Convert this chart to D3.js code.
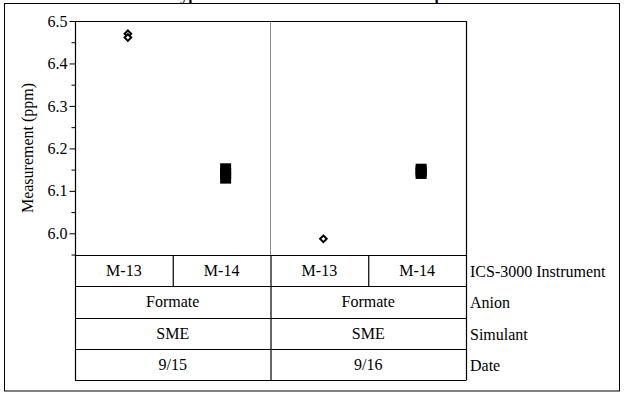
<!DOCTYPE html>
<html>
<head>
<meta charset="utf-8">
<script src="https://cdn.jsdelivr.net/npm/d3@7"></script>
<style>
  html, body { margin: 0; padding: 0; background: #fff; }
  svg { display: block; }
  text { font-family: "Liberation Serif", "Times New Roman", serif; fill: #000; }
</style>
</head>
<body>
<svg id="chart" width="624" height="396"></svg>
<script>
// ---- data ----
const chartTitle = "Typical Formate Results for SME Samples";
const yLabel = "Measurement (ppm)";
const dateLabels = ["9/15", "9/16"];
const instrumentLabels = ["M-13", "M-14"];
const anionLabels = ["Formate", "Formate"];
const simulantLabels = ["SME", "SME"];
const rowTitles = ["ICS-3000 Instrument", "Anion", "Simulant", "Date"];
const yMajorTicks = [6.0, 6.1, 6.2, 6.3, 6.4, 6.5];
const yMinorTicks = [5.95, 6.05, 6.15, 6.25, 6.35, 6.45];
// replicate measurements per date / instrument
const sep15M13 = [6.470, 6.461];
const sep15M14 = [6.152, 6.141, 6.130];
const sep16M13 = [5.987];
const sep16M14 = [6.151, 6.146, 6.141];

const measurements = [
  { date: "9/15", inst: "M-13", values: sep15M13 },
  { date: "9/15", inst: "M-14", values: sep15M14 },
  { date: "9/16", inst: "M-13", values: sep16M13 },
  { date: "9/16", inst: "M-14", values: sep16M14 }
];

// ---- layout ----
const svg = d3.select("#chart");
const plotLeft = 75, plotRight = 466, plotTop = 21, plotBottom = 255;
const rowH = 31.25;
const tableBottom = plotBottom + rowH * 4;
const markerShift = 4;

const cellKeys = [];
dateLabels.forEach(d => instrumentLabels.forEach(i => cellKeys.push(d + "|" + i)));

const xCell = d3.scaleBand().domain(cellKeys).range([plotLeft, plotRight]);
const xDate = d3.scaleBand().domain(dateLabels).range([plotLeft, plotRight]);
const y = d3.scaleLinear().domain([5.949, 6.5]).range([plotBottom, plotTop]);

// outer frame
svg.append("rect")
  .attr("x", 4.5).attr("y", 3.5)
  .attr("width", 615).attr("height", 387.5)
  .attr("fill", "none").attr("stroke", "#000").attr("stroke-width", 1);

// title (sits above the frame)
svg.append("text")
  .attr("x", 316).attr("y", 0)
  .attr("text-anchor", "middle")
  .attr("font-size", 16).attr("font-weight", "bold")
  .text(chartTitle);

// date divider inside plot region
svg.append("line")
  .attr("x1", xDate("9/16")).attr("x2", xDate("9/16"))
  .attr("y1", plotTop).attr("y2", plotBottom)
  .attr("stroke", "#8c8c8c").attr("stroke-width", 1);

// plot frame (top and right)
svg.append("path")
  .attr("d", `M${plotLeft},${plotTop + 0.5}H${plotRight + 0.5}V${tableBottom}`)
  .attr("fill", "none").attr("stroke", "#000").attr("stroke-width", 1.2);

// y axis
const axisMajor = d3.axisLeft(y).tickValues(yMajorTicks).tickFormat(d3.format(".1f")).tickSize(6).tickPadding(2);
const axisMinor = d3.axisLeft(y).tickValues(yMinorTicks).tickFormat("").tickSize(4);

const gMinor = svg.append("g").attr("transform", `translate(${plotLeft + 0.5},0)`).call(axisMinor);
gMinor.select(".domain").remove();
const gMajor = svg.append("g").attr("transform", `translate(${plotLeft + 0.5},0)`).call(axisMajor);
gMajor.select(".domain").remove();
svg.selectAll(".tick line").attr("stroke", "#000");
gMajor.selectAll(".tick text")
  .attr("font-family", "Liberation Serif, Times New Roman, serif")
  .attr("font-size", 16).attr("fill", "#000");

// axis line continues down as table left border
svg.append("line")
  .attr("x1", plotLeft + 0.5).attr("x2", plotLeft + 0.5)
  .attr("y1", plotTop).attr("y2", tableBottom)
  .attr("stroke", "#000").attr("stroke-width", 1.2);

// y label
svg.append("text")
  .attr("transform", `translate(27,${(plotTop + plotBottom) / 2 + 10}) rotate(-90)`)
  .attr("text-anchor", "middle")
  .attr("dominant-baseline", "central")
  .attr("font-size", 16)
  .text(yLabel);

// ---- table below plot ----
const rowY = i => plotBottom + rowH * i;
// horizontal rules
for (let i = 0; i <= 4; i++) {
  svg.append("line")
    .attr("x1", plotLeft).attr("x2", plotRight + 0.5)
    .attr("y1", Math.round(rowY(i)) + 0.5).attr("y2", Math.round(rowY(i)) + 0.5)
    .attr("stroke", "#000").attr("stroke-width", 1.2);
}
// date divider through the table
svg.append("line")
  .attr("x1", xDate("9/16") + 0.5).attr("x2", xDate("9/16") + 0.5)
  .attr("y1", plotBottom).attr("y2", tableBottom)
  .attr("stroke", "#000").attr("stroke-width", 1.2);
// instrument dividers in first row
dateLabels.forEach(d => {
  const xk = xCell(d + "|M-14");
  svg.append("line")
    .attr("x1", xk + 0.5).attr("x2", xk + 0.5)
    .attr("y1", rowY(0)).attr("y2", rowY(1))
    .attr("stroke", "#000").attr("stroke-width", 1.2);
});

const cellFont = 16;
// instrument row
cellKeys.forEach(k => {
  svg.append("text")
    .attr("x", xCell(k) + xCell.bandwidth() / 2)
    .attr("y", rowY(0) + rowH / 2)
    .attr("text-anchor", "middle").attr("dominant-baseline", "central")
    .attr("font-size", cellFont)
    .text(k.split("|")[1]);
});
// anion, simulant, date rows
[anionLabels, simulantLabels, dateLabels].forEach((labels, r) => {
  dateLabels.forEach((d, i) => {
    svg.append("text")
      .attr("x", xDate(d) + xDate.bandwidth() / 2)
      .attr("y", rowY(r + 1) + rowH / 2)
      .attr("text-anchor", "middle").attr("dominant-baseline", "central")
      .attr("font-size", cellFont)
      .text(labels[i]);
  });
});
// row titles to the right
rowTitles.forEach((t, r) => {
  svg.append("text")
    .attr("x", plotRight + 4)
    .attr("y", rowY(r) + rowH / 2 + 1)
    .attr("dominant-baseline", "central")
    .attr("font-size", cellFont)
    .text(t);
});

// ---- markers ----
const diamond = d3.symbol().type(d3.symbolDiamond2).size(28);
const square = d3.symbol().type(d3.symbolSquare).size(121);

measurements.forEach(m => {
  const cx = xCell(m.date + "|" + m.inst) + xCell.bandwidth() / 2 + markerShift;
  m.values.forEach(v => {
    if (m.inst === "M-13") {
      svg.append("path")
        .attr("d", diamond())
        .attr("transform", `translate(${cx},${y(v)})`)
        .attr("fill", "#fff").attr("stroke", "#000").attr("stroke-width", 2);
    } else {
      svg.append("path")
        .attr("d", square())
        .attr("transform", `translate(${cx},${y(v)})`)
        .attr("fill", "#000").attr("stroke", "none");
    }
  });
});
</script>
</body>
</html>
